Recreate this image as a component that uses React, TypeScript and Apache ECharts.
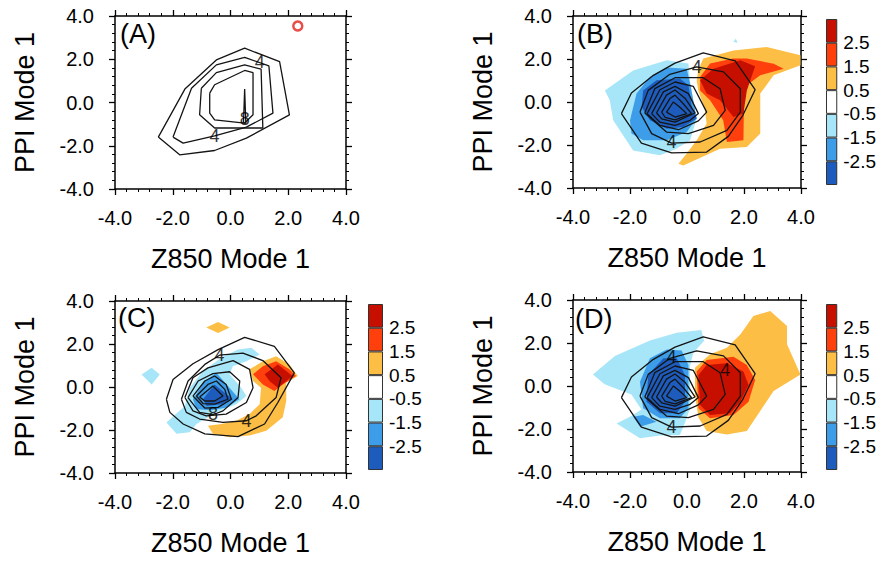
import React, { useEffect, useRef } from "react";
import * as echarts from "echarts";

// ---------- data (values in data coordinates) ----------
const AXIS_MIN = -4;
const AXIS_MAX = 4;
const AXIS_STEP = 2;
const PANEL_LETTERS = ["(A)", "(B)", "(C)", "(D)"];
const X_TITLE = "Z850 Mode 1";
const Y_TITLE = "PPI Mode 1";
const COLORBAR_LABELS = ["-2.5", "-1.5", "-0.5", "0.5", "1.5", "2.5"];

// Panel A: contours only
const A_C2 = [[-2.5, -1.6], [-1.58, 0.62], [-0.49, 1.97], [0.49, 2.51], [1.7, 1.89], [2.04, -0.57], [0.55, -1.65], [-0.55, -2.22], [-1.76, -2.42]];
const A_C4 = [[-1.99, -1.6], [-1.35, 0.66], [-0.49, 1.74], [0.49, 2.09], [1.33, 1.69], [1.47, -0.49], [0.55, -1.14], [-0.55, -1.54], [-1.64, -1.88]];
const A_C6 = [[-1.01, 0.66], [-0.49, 1.38], [0.49, 1.74], [1.06, 1.54], [1.12, -1.18], [-0.55, -1.18], [-1.07, -0.57]];
const A_C8 = [[-0.72, 0.43], [-0.55, 0.82], [0.49, 1.48], [0.78, 1.38], [0.78, -0.57], [0.49, -0.95], [-0.55, -0.8], [-0.72, -0.49]];
const A_C10 = [[0.45, -0.95], [0.49, 0.62], [0.53, -0.95]];
const A_LABELS = [[1.01, 1.89, "4"], [-0.55, -1.54, "4"], [0.49, -0.77, "8"]];
const A_MARKER = [[2.33, 3.54]];

// Panel B
const B_LIGHT_BLUE = [
  [[-2.88, 0.54], [-1.89, 1.47], [-0.71, 1.94], [0.05, 1.79], [0.11, 0.86], [0.34, -0.77], [0.11, -1.78], [-0.4, -2.2], [-0.95, -2.48], [-1.89, -2.25], [-2.59, -0.85], [-2.71, 0.08]],
  [[1.63, 2.79], [1.71, 2.95], [1.78, 2.76]],
];
const B_MID_BLUE = [[[-2.0, -0.85], [-1.77, 0.39], [-1.3, 1.16], [-0.71, 1.6], [-0.01, 1.55], [0.11, 0.86], [0.34, -0.77], [-0.01, -1.4], [-0.71, -1.78], [-1.54, -1.78], [-1.95, -1.47]]];
const B_DARK_BLUE = [[[-1.54, 0.54], [-1.07, 1.01], [-0.25, 1.09], [0.05, 0.78], [0.17, -0.23], [0.34, -0.77], [-0.13, -1.16], [-0.71, -1.24], [-1.3, -0.85], [-1.59, -0.23]]];
const B_ORANGE = [[[0.4, 1.5], [0.57, 2.02], [1.63, 2.4], [2.8, 2.56], [3.98, 2.17], [3.98, 1.71], [3.04, 1.24], [2.57, 0.39], [2.57, -1.47], [2.1, -2.09], [1.16, -2.17], [-0.13, -2.95], [-0.3, -2.87], [-0.01, -2.4], [0.34, -1.78], [0.69, -1.0], [0.62, -0.3], [0.4, 0.5], [0.34, 1.0]]];
const B_RED = [[[0.46, 1.16], [0.81, 1.79], [1.62, 2.02], [2.1, 2.02], [3.04, 1.78], [3.39, 1.55], [2.57, 1.24], [2.1, 0.78], [2.0, 0.08], [1.98, -1.78], [1.4, -1.86], [1.27, -0.85], [0.81, 0.08], [0.46, 0.54]]];
const B_DARK_RED = [[[0.46, 1.01], [0.93, 1.55], [1.87, 1.94], [2.39, 1.66], [2.1, 0.54], [1.98, -0.54], [1.63, -0.7], [1.16, 0.08], [0.69, 0.39]]];
const B_C2 = [[-2.3, -0.54], [-1.95, 0.42], [-1.18, 1.24], [-0.42, 1.81], [0.57, 2.29], [1.69, 1.91], [2.39, 0.57], [1.96, -0.62], [1.45, -1.6], [0.69, -2.33], [-0.54, -2.37], [-1.6, -1.91]];
const B_C4 = [[-1.65, -0.47], [-1.36, 0.54], [-0.6, 1.29], [0.34, 1.63], [1.28, 1.4], [1.87, 0.62], [1.87, -0.47], [1.4, -1.32], [0.46, -1.86], [-0.54, -1.91], [-1.24, -1.47]];
const B_C6 = [[-1.48, -0.51], [-1.13, 0.62], [-0.42, 1.13], [0.57, 1.13], [1.16, 0.62], [1.34, -0.39], [0.93, -1.09], [0.05, -1.47], [-0.72, -1.4]];
const B_C8 = [[-1.4, -0.54], [-0.95, 0.57], [-0.42, 0.93], [0.22, 0.73], [0.69, -0.47], [0.4, -0.88], [-0.3, -1.29], [-0.95, -1.09]];
const B_C10 = [[-1.24, -0.54], [-0.83, 0.47], [-0.42, 0.73], [0.05, 0.39], [0.4, -0.54], [0.11, -0.85], [-0.42, -1.09], [-0.95, -0.94]];
const B_C12 = [[-1.07, -0.51], [-0.72, 0.32], [-0.42, 0.56], [-0.07, 0.18], [0.28, -0.51], [-0.42, -0.94], [-0.89, -0.78]];
const B_C14 = [[-0.89, -0.47], [-0.6, 0.16], [-0.42, 0.32], [-0.13, -0.08], [0.16, -0.54], [-0.42, -0.83], [-0.77, -0.71]];
const B_C16 = [[-0.72, -0.47], [-0.48, 0.0], [-0.25, -0.24], [-0.01, -0.54], [-0.42, -0.7]];
const B_LABELS = [[0.34, 1.63, "4"], [-0.54, -1.86, "4"]];

// Panel C
const C_LIGHT_BLUE = [
  [[-2.22, -1.65], [-1.58, -0.88], [-1.41, -0.03], [-0.95, 0.74], [-0.32, 1.36], [0.26, 1.74], [0.72, 1.82], [1.01, 1.51], [0.55, 1.2], [0.08, 0.97], [-0.03, 0.59], [0.37, -0.03], [0.55, -0.42], [0.2, -0.8], [-0.49, -1.18], [-1.18, -1.72], [-1.41, -2.11], [-1.87, -2.18]],
  [[-3.08, 0.58], [-2.73, 0.89], [-2.45, 0.58], [-2.73, 0.12]],
];
const C_MID_BLUE = [[[-1.3, -0.57], [-0.89, 0.28], [-0.49, 0.66], [-0.09, 0.05], [0.31, -0.57], [-0.14, -0.95], [-0.66, -1.08], [-1.18, -1.03]]];
const C_DARK_BLUE = [[[-0.95, -0.57], [-0.55, 0.12], [0.08, -0.57], [-0.32, -0.8], [-0.83, -0.88]]];
const C_ORANGE = [
  [[0.66, 0.82], [1.12, 1.2], [1.58, 1.43], [2.04, 1.05], [2.33, 0.51], [1.93, 0.2], [1.93, -0.65], [1.81, -1.41], [1.24, -2.03], [0.66, -2.26], [-0.03, -2.34], [-0.61, -2.18], [-0.78, -1.8], [-0.32, -1.72], [0.2, -1.57], [0.66, -1.26], [1.01, -0.8], [1.06, -0.03], [0.78, 0.28]],
  [[-0.84, 2.77], [-0.43, 3.02], [-0.03, 2.77], [-0.43, 2.51]],
];
const C_RED = [[[0.78, 0.59], [1.12, 0.97], [1.58, 1.2], [2.04, 0.82], [2.27, 0.51], [1.81, 0.12], [1.52, -0.19], [1.12, 0.12]]];
const C_DARK_RED = [[[1.18, 0.59], [1.64, 1.05], [2.15, 0.51], [1.64, -0.03], [1.35, 0.28]]];
const C_C2 = [[-2.22, -0.57], [-1.99, 0.35], [-1.3, 1.08], [-0.43, 1.74], [0.49, 2.31], [1.52, 1.89], [2.21, 0.66], [1.64, -0.72], [1.18, -1.72], [0.26, -2.31], [-0.89, -2.18], [-1.64, -1.72], [-2.1, -1.18]];
const C_C4 = [[-1.7, -0.57], [-1.47, 0.28], [-0.89, 1.05], [-0.38, 1.48], [0.43, 1.58], [1.12, 1.23], [1.75, 0.43], [1.58, -0.49], [0.89, -1.34], [0.55, -1.57], [-0.26, -1.65], [-1.07, -1.49], [-1.53, -1.18]];
const C_C6 = [[-1.58, -0.49], [-1.3, 0.43], [-0.78, 0.89], [0.09, 1.23], [0.66, 0.82], [0.78, -0.03], [0.55, -0.72], [-0.15, -1.26], [-0.84, -1.34], [-1.3, -1.11]];
const C_C8 = [[-1.47, -0.49], [-1.12, 0.28], [-0.61, 0.62], [-0.03, 0.71], [0.32, 0.28], [0.26, -0.49], [-0.26, -1.11], [-0.61, -1.29], [-1.07, -1.18]];
const C_C10 = [[-1.3, -0.42], [-0.89, 0.28], [-0.55, 0.51], [-0.15, 0.12], [0.03, -0.57], [-0.43, -0.95], [-0.89, -0.98]];
const C_C12 = [[-1.18, -0.42], [-0.78, 0.12], [-0.49, 0.28], [-0.2, -0.11], [-0.09, -0.57], [-0.55, -0.8], [-0.95, -0.77]];
const C_C14 = [[-1.07, -0.46], [-0.61, 0.05], [-0.26, -0.42], [-0.55, -0.65], [-0.89, -0.65]];
const C_LABELS = [[-0.38, 1.48, "4"], [0.55, -1.57, "4"], [-0.61, -1.26, "8"]];

// Panel D
const D_LIGHT_BLUE = [[[-3.3, 0.54], [-2.53, 1.4], [-1.3, 2.12], [-0.36, 2.48], [0.5, 2.6], [0.6, 2.1], [0.22, 1.55], [0.1, 0.9], [0.12, -1.0], [-0.1, -1.8], [-0.25, -2.28], [-0.95, -2.3], [-1.65, -2.43], [-2.47, -1.74], [-1.95, -1.4], [-1.6, -1.09], [-1.95, -0.39], [-2.89, 0.08]]];
const D_MID_BLUE = [
  [[-1.65, 0.2], [-1.3, 1.29], [-0.71, 1.7], [-0.19, 1.65], [0.05, 0.98], [0.05, -1.04], [-0.25, -1.5], [-0.95, -1.5], [-1.54, -1.04]],
  [[-1.89, -1.43], [-1.54, -1.35], [-1.07, -1.66], [-1.65, -1.89]],
];
const D_DARK_BLUE = [[[-1.36, 0.51], [-0.83, 1.29], [-0.36, 1.29], [-0.07, 0.51], [-0.07, -0.73], [-0.36, -1.27], [-0.95, -1.27], [-1.42, -0.73]]];
const D_ORANGE = [[[0.28, 0.85], [0.81, 1.48], [1.4, 1.78], [1.87, 2.4], [2.33, 3.26], [2.92, 3.49], [3.51, 2.79], [3.51, 1.94], [3.98, 0.54], [3.04, -0.23], [2.57, -1.16], [2.1, -2.09], [1.4, -2.25], [0.69, -2.09], [0.4, -1.47], [0.28, -0.39]]];
const D_RED = [[[0.34, 0.67], [0.69, 1.21], [1.63, 1.36], [2.1, 0.98], [2.39, 0.28], [2.16, -0.73], [1.63, -1.35], [0.81, -1.5], [0.4, -1.04]]];
const D_DARK_RED = [[[0.4, 0.51], [0.69, 0.98], [1.4, 1.06], [1.98, 0.67], [2.16, 0.05], [1.87, -0.73], [1.51, -1.27], [0.81, -1.35], [0.46, -0.88]]];
const D_CONTOURS = [B_C2, B_C4, B_C6, B_C8, B_C10, B_C12, B_C14, B_C16];
const D_LABELS = [[-0.54, 1.36, "4"], [1.34, 0.74, "4"], [-0.54, -1.9, "4"]];

// ---------- styles / layout ----------
const FONT = '"Liberation Sans", Arial, Helvetica, sans-serif';
const COL_LB = "#a6e6f8";
const COL_MB = "#3d9de8";
const COL_DB = "#1d5cbc";
const COL_OR = "#fdbe46";
const COL_RO = "#ff3f0c";
const COL_DR = "#c70f00";
const COLORBAR_COLORS = [COL_DB, COL_MB, COL_LB, "#ffffff", COL_OR, COL_RO, COL_DR];

const GRIDS = [
  { left: 115, top: 16, width: 231, height: 173 },
  { left: 573, top: 16, width: 228, height: 172 },
  { left: 115, top: 301, width: 231, height: 172 },
  { left: 573, top: 300, width: 228, height: 172 },
];
const CB_GRIDS = [
  { left: 826, top: 19, width: 13, height: 166 },
  { left: 368, top: 304, width: 15, height: 166 },
  { left: 826, top: 304, width: 13, height: 166 },
];
const LETTER_POS = [
  [120, 20],
  [577, 20],
  [118, 304],
  [575, 305],
];

const PANELS = [
  { fills: [], contours: [A_C2, A_C4, A_C6, A_C8, A_C10], labels: A_LABELS, marker: A_MARKER },
  {
    fills: [[COL_LB, B_LIGHT_BLUE], [COL_MB, B_MID_BLUE], [COL_DB, B_DARK_BLUE], [COL_OR, B_ORANGE], [COL_RO, B_RED], [COL_DR, B_DARK_RED]],
    contours: [B_C2, B_C4, B_C6, B_C8, B_C10, B_C12, B_C14, B_C16],
    labels: B_LABELS,
    marker: [],
  },
  {
    fills: [[COL_LB, C_LIGHT_BLUE], [COL_MB, C_MID_BLUE], [COL_DB, C_DARK_BLUE], [COL_OR, C_ORANGE], [COL_RO, C_RED], [COL_DR, C_DARK_RED]],
    contours: [C_C2, C_C4, C_C6, C_C8, C_C10, C_C12, C_C14],
    labels: C_LABELS,
    marker: [],
  },
  {
    fills: [[COL_LB, D_LIGHT_BLUE], [COL_MB, D_MID_BLUE], [COL_DB, D_DARK_BLUE], [COL_OR, D_ORANGE], [COL_RO, D_RED], [COL_DR, D_DARK_RED]],
    contours: D_CONTOURS,
    labels: D_LABELS,
    marker: [],
  },
];

function valueAxis(gridIndex: number, position: string, main: boolean, isX: boolean) {
  return {
    type: "value",
    gridIndex,
    position,
    min: AXIS_MIN,
    max: AXIS_MAX,
    interval: AXIS_STEP,
    axisLine: { show: true, onZero: false, lineStyle: { color: "#000", width: 1.5 } },
    axisTick: { show: true, inside: false, length: 6, lineStyle: { color: "#000", width: 1.3 } },
    minorTick: { show: true, splitNumber: 5, length: 3, lineStyle: { color: "#000", width: 1 } },
    splitLine: { show: false },
    minorSplitLine: { show: false },
    axisLabel: {
      show: main,
      formatter: (v: number) => v.toFixed(1),
      fontSize: 20,
      fontFamily: FONT,
      color: "#000",
      margin: isX ? 19 : 21,
    },
    name: main ? (isX ? X_TITLE : Y_TITLE) : "",
    nameLocation: "middle",
    nameGap: isX ? 56 : 77,
    nameTextStyle: { fontSize: 27, fontFamily: FONT, color: "#000" },
  };
}

function buildOption() {
  const xAxis: any[] = [];
  const yAxis: any[] = [];
  const series: any[] = [];
  const graphic: any[] = [];

  PANELS.forEach((panel, p) => {
    xAxis.push(valueAxis(p, "bottom", true, true));
    xAxis.push(valueAxis(p, "top", false, true));
    yAxis.push(valueAxis(p, "left", true, false));
    yAxis.push(valueAxis(p, "right", false, false));
    const xi = 2 * p;
    const yi = 2 * p;

    panel.fills.forEach(([color, polys]: any) => {
      series.push({
        type: "custom",
        xAxisIndex: xi,
        yAxisIndex: yi,
        silent: true,
        clip: true,
        z: 1,
        data: polys.map(() => [0, 0]),
        renderItem: (params: any, api: any) => {
          const poly = polys[params.dataIndex];
          return {
            type: "polygon",
            shape: { points: poly.map((pt: number[]) => api.coord(pt)) },
            style: { fill: color, stroke: null },
          };
        },
      });
    });

    panel.contours.forEach((poly: number[][]) => {
      series.push({
        type: "line",
        xAxisIndex: xi,
        yAxisIndex: yi,
        silent: true,
        z: 3,
        symbol: "none",
        smooth: false,
        lineStyle: { color: "#141414", width: 1.3 },
        data: [...poly, poly[0]],
      });
    });

    series.push({
      type: "scatter",
      xAxisIndex: xi,
      yAxisIndex: yi,
      silent: true,
      z: 4,
      symbolSize: 1,
      itemStyle: { color: "transparent" },
      label: {
        show: true,
        position: "inside",
        formatter: (d: any) => d.name,
        fontSize: 18,
        fontFamily: FONT,
        color: "#000",
      },
      data: panel.labels.map((l: any) => ({ value: [l[0], l[1]], name: l[2] })),
    });

    if (panel.marker.length) {
      series.push({
        type: "scatter",
        xAxisIndex: xi,
        yAxisIndex: yi,
        silent: true,
        z: 5,
        symbol: "circle",
        symbolSize: 9,
        itemStyle: { color: "#fff", borderColor: "#e3201b", borderWidth: 2.5 },
        data: panel.marker,
      });
    }

    graphic.push({
      type: "text",
      left: LETTER_POS[p][0],
      top: LETTER_POS[p][1],
      z: 10,
      style: { text: PANEL_LETTERS[p], fontSize: 27, fontFamily: FONT, fill: "#000" },
    });
  });

  CB_GRIDS.forEach((g, k) => {
    const gi = GRIDS.length + k;
    const ai = xAxis.length;
    xAxis.push({ type: "category", gridIndex: gi, data: ["cb"], show: false });
    yAxis.push({
      type: "value",
      gridIndex: gi,
      position: "right",
      min: 0,
      max: COLORBAR_COLORS.length,
      interval: 1,
      axisLine: { show: false },
      axisTick: { show: false },
      splitLine: { show: false },
      axisLabel: {
        show: true,
        margin: 6,
        fontSize: 19,
        fontFamily: FONT,
        color: "#000",
        formatter: (v: number) => COLORBAR_LABELS[v - 1] ?? "",
      },
    });
    COLORBAR_COLORS.forEach((c) => {
      series.push({
        type: "bar",
        xAxisIndex: ai,
        yAxisIndex: ai,
        stack: "cb" + k,
        silent: true,
        barWidth: "100%",
        itemStyle: { color: c, borderColor: "#333", borderWidth: 1 },
        data: [1],
      });
    });
  });

  return {
    animation: false,
    backgroundColor: "#fff",
    grid: [...GRIDS, ...CB_GRIDS],
    xAxis,
    yAxis,
    series,
    graphic,
  };
}

export default function App() {
  const ref = useRef<HTMLDivElement>(null);
  useEffect(() => {
    document.body.style.margin = "0";
    if (!ref.current) return;
    const chart = echarts.init(ref.current, undefined, { renderer: "svg" });
    chart.setOption(buildOption() as any);
    return () => chart.dispose();
  }, []);
  return <div ref={ref} style={{ width: 879, height: 561 }} />;
}
